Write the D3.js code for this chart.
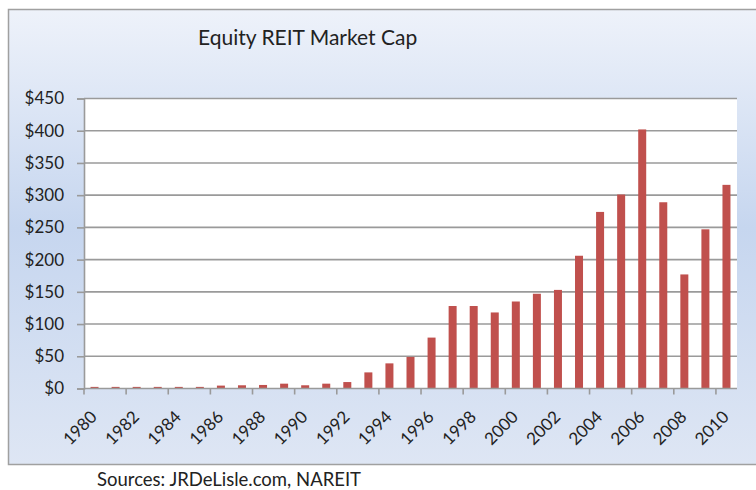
<!DOCTYPE html>
<html>
<head>
<meta charset="utf-8">
<script src="https://cdn.jsdelivr.net/npm/d3@7"></script>
<style>
html,body{margin:0;padding:0;background:#fff;}
svg{display:block;}
text{font-family:Lato,"Liberation Sans",sans-serif;fill:#222;}
</style>
</head>
<body>
<svg id="chart" width="756" height="490"></svg>
<script>
const years = [1980,1981,1982,1983,1984,1985,1986,1987,1988,1989,1990,1991,1992,1993,1994,1995,1996,1997,1998,1999,2000,2001,2002,2003,2004,2005,2006,2007,2008,2009,2010];
const marketCap = [2.5,2.5,2.5,2.5,2.5,2.5,4.5,5,5.5,7.5,5,7.5,10,25,39,49,79,128,128,118,135,147,153,206,274,301,402,289,177,247,316];
const yTicks = [0,50,100,150,200,250,300,350,400,450];
const title = "Equity REIT Market Cap";
const source = "Sources: JRDeLisle.com, NAREIT";

const svg = d3.select("#chart");
const defs = svg.append("defs");
const grad = defs.append("linearGradient").attr("id","bg").attr("x1",0).attr("y1",0).attr("x2",0).attr("y2",1);
grad.append("stop").attr("offset","0%").attr("stop-color","#EEF2FA");
grad.append("stop").attr("offset","48%").attr("stop-color","#C6D6EF");
grad.append("stop").attr("offset","100%").attr("stop-color","#DEE6F4");

// outer chart area
svg.append("rect").attr("x",8.5).attr("y",9.5).attr("width",760).attr("height",455)
  .attr("fill","url(#bg)").attr("stroke","#A0A0A0").attr("stroke-width",1.5);

const pL = 84, pR = 737, pT = 98.5, pB = 388.5;
const x = d3.scaleBand().domain(years).range([pL,pR]).paddingInner(0).paddingOuter(0);
const y = d3.scaleLinear().domain([0,450]).range([pB,pT]);

// plot area
svg.append("rect").attr("x",pL).attr("y",pT).attr("width",pR-pL).attr("height",pB-pT).attr("fill","#fff");

// gridlines
svg.append("g").selectAll("line").data(yTicks.filter(d=>d>0)).join("line")
  .attr("x1",pL).attr("x2",pR).attr("y1",d=>y(d)).attr("y2",d=>y(d))
  .attr("stroke","#9A9A9A").attr("stroke-width",1.6);

// bars
const bw = 8;
svg.append("g").selectAll("rect").data(years).join("rect")
  .attr("x",(d)=>x(d)+x.bandwidth()/2-bw/2)
  .attr("width",bw)
  .attr("y",(d,i)=>y(marketCap[i]))
  .attr("height",(d,i)=>pB-y(marketCap[i]))
  .attr("fill","#C0504D");

// y axis
const yAxis = d3.axisLeft(y).tickValues(yTicks).tickSize(7).tickPadding(13).tickFormat(d=>"$"+d);
const ya = svg.append("g").attr("transform",`translate(${pL},0)`).call(yAxis);
ya.select(".domain").attr("stroke","#9A9A9A").attr("stroke-width",1.6);
ya.selectAll(".tick line").attr("stroke","#9A9A9A").attr("stroke-width",1.6);
ya.selectAll("text").attr("font-size",17).attr("font-family","Lato, sans-serif").attr("fill","#222");

// x axis
const xa = svg.append("g").attr("transform",`translate(0,${pB})`);
xa.append("line").attr("x1",pL).attr("x2",pR).attr("stroke","#9A9A9A").attr("stroke-width",1.6);
const tickYears = years.filter((d,i)=>i%2===0);
xa.selectAll("line.tk").data(tickYears).join("line").attr("class","tk")
  .attr("x1",d=>x(d)).attr("x2",d=>x(d)).attr("y1",0).attr("y2",6)
  .attr("stroke","#9A9A9A").attr("stroke-width",1.6);
xa.selectAll("text").data(tickYears).join("text")
  .attr("text-anchor","end")
  .attr("font-size",17)
  .attr("transform",d=>`translate(${x(d)+x.bandwidth()/2+3.5},29.5) rotate(-45)`)
  .text(d=>d);

// title
svg.append("text").attr("x",198).attr("y",45).attr("font-size",21).attr("fill","#333").text(title);
// source
svg.append("text").attr("x",97).attr("y",486).attr("font-size",18.5).text(source);
</script>
</body>
</html>
